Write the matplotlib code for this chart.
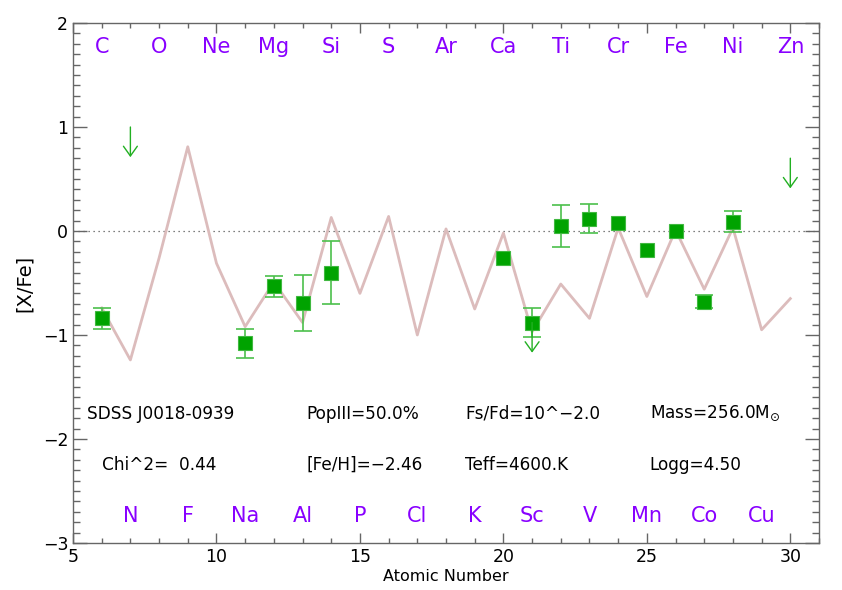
import matplotlib
matplotlib.use("Agg")
import matplotlib.pyplot as plt
from matplotlib.ticker import MultipleLocator

plt.rcParams['font.family'] = ['DejaVu Sans']

# observed abundances [X/Fe] with errors
obs_z = [6, 11, 12, 13, 14, 20, 21, 22, 23, 24, 25, 26, 27, 28]
obs_val = [-0.84, -1.08, -0.53, -0.69, -0.40, -0.26, -0.88, 0.05, 0.12, 0.08, -0.18, 0.00, -0.68, 0.09]
obs_err = [0.10, 0.14, 0.10, 0.27, 0.30, 0.0, 0.14, 0.20, 0.14, 0.0, 0.0, 0.0, 0.06, 0.10]

# upper limits
lim_z = [7, 21, 30]
lim_val = [1.00, -0.88, 0.70]

# model yields
model_z = list(range(6, 31))
model_val = [-0.74, -1.24, -0.26, 0.81, -0.31, -0.92, -0.49, -0.88, 0.13, -0.60,
             0.14, -1.00, 0.02, -0.75, -0.02, -0.97, -0.51, -0.84, 0.03, -0.63,
             0.01, -0.56, 0.03, -0.95, -0.65]

top_elems = ['C', 'O', 'Ne', 'Mg', 'Si', 'S', 'Ar', 'Ca', 'Ti', 'Cr', 'Fe', 'Ni', 'Zn']
top_z = [6, 8, 10, 12, 14, 16, 18, 20, 22, 24, 26, 28, 30]
bot_elems = ['N', 'F', 'Na', 'Al', 'P', 'Cl', 'K', 'Sc', 'V', 'Mn', 'Co', 'Cu']
bot_z = [7, 9, 11, 13, 15, 17, 19, 21, 23, 25, 27, 29]

info_row1 = ['SDSS J0018-0939', 'PopIII=50.0%', 'Fs/Fd=10^\u22122.0', r'Mass=256.0M$_{\odot}$']
info_x1 = [5.49, 13.15, 18.66, 25.10]
info_row2 = ['Chi^2=  0.44', '[Fe/H]=\u22122.46', 'Teff=4600.K', 'Logg=4.50']
info_x2 = [6.01, 13.15, 18.66, 25.10]

purple = '#8800ff'
green = '#00a300'
lightgreen = '#4cc04c'

fig = plt.figure(figsize=(8.42, 5.90), dpi=100)
ax = fig.add_axes([0.0867, 0.0797, 0.886, 0.8813])

ax.axhline(0, color='#555555', linestyle=(0, (1, 3)), linewidth=0.9, zorder=1)
ax.plot(model_z, model_val, color='#dcbcbc', linewidth=2, zorder=2)

# error bars only where they show
bars = [(z, v, e) for z, v, e in zip(obs_z, obs_val, obs_err) if e > 0]
ax.errorbar([b[0] for b in bars], [b[1] for b in bars], yerr=[b[2] for b in bars],
            fmt='none', ecolor=lightgreen, elinewidth=1.2, capsize=6.5,
            capthick=1.2, zorder=3)
ax.plot(obs_z, obs_val, 's', color=green, markersize=10.5,
        markeredgecolor='#40b840', markeredgewidth=0.8, zorder=4)

for z, v in zip(lim_z, lim_val):
    ax.annotate('', xy=(z, v - 0.29), xytext=(z, v),
                arrowprops=dict(arrowstyle='->,head_length=0.7,head_width=0.5',
                                color='#22b022', lw=1.0, shrinkA=0, shrinkB=0),
                zorder=5)

for name, z in zip(top_elems, top_z):
    ax.text(z, 1.77, name, color=purple, fontsize=15, ha='center', va='center')
for name, z in zip(bot_elems, bot_z):
    ax.text(z, -2.74, name, color=purple, fontsize=15, ha='center', va='center')

for s, x in zip(info_row1, info_x1):
    ax.text(x, -1.755, s, fontsize=12.2, ha='left', va='center')
for s, x in zip(info_row2, info_x2):
    ax.text(x, -2.25, s, fontsize=12.2, ha='left', va='center')

ax.set_xlim(5, 31)
ax.set_ylim(-3, 2)
ax.xaxis.set_major_locator(MultipleLocator(5))
ax.xaxis.set_minor_locator(MultipleLocator(1))
ax.yaxis.set_major_locator(MultipleLocator(1))
ax.yaxis.set_minor_locator(MultipleLocator(0.1))

ax.tick_params(axis='both', which='both', direction='in', top=True, right=True,
               color='#666666', labelsize=12.5)
ax.tick_params(axis='x', which='major', length=7, width=1)
ax.tick_params(axis='x', which='minor', length=3.5, width=1)
ax.tick_params(axis='y', which='major', length=10, width=1)
ax.tick_params(axis='y', which='minor', length=5, width=1)
for sp in ax.spines.values():
    sp.set_color('#666666')
    sp.set_linewidth(1)

ax.set_xlabel('Atomic Number', fontsize=11.5, labelpad=2)
ax.set_ylabel('[X/Fe]', fontsize=14, labelpad=6)

fig.savefig('out.png', dpi=100)
